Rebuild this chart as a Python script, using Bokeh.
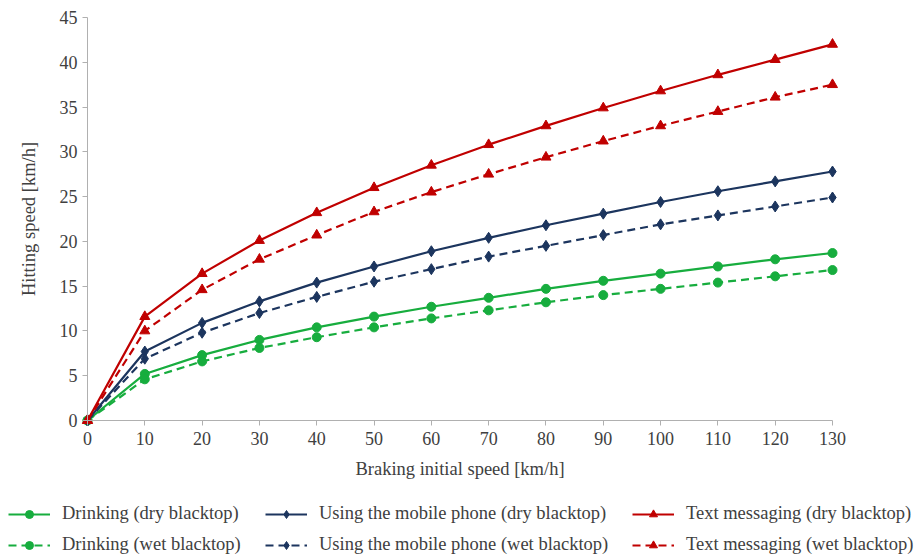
from bokeh.plotting import figure
from bokeh.models import FixedTicker, Legend, LegendItem, Range1d
from bokeh.embed import file_html
from bokeh.resources import INLINE

speeds = [0, 10, 20, 30, 40, 50, 60, 70, 80, 90, 100, 110, 120, 130]
drink_dry = [0, 5.2, 7.3, 9.0, 10.4, 11.6, 12.7, 13.7, 14.7, 15.6, 16.4, 17.2, 18.0, 18.7]
drink_wet = [0, 4.6, 6.6, 8.1, 9.3, 10.4, 11.4, 12.3, 13.2, 14.0, 14.7, 15.4, 16.1, 16.8]
phone_dry = [0, 7.7, 10.9, 13.3, 15.4, 17.2, 18.9, 20.4, 21.8, 23.1, 24.4, 25.6, 26.7, 27.8]
phone_wet = [0, 6.9, 9.8, 12.0, 13.8, 15.5, 16.9, 18.3, 19.5, 20.7, 21.9, 22.9, 23.9, 24.9]
text_dry = [0, 11.6, 16.4, 20.1, 23.2, 26.0, 28.5, 30.8, 32.9, 34.9, 36.8, 38.6, 40.3, 42.0]
text_wet = [0, 10.0, 14.6, 18.0, 20.7, 23.3, 25.5, 27.5, 29.4, 31.2, 32.9, 34.5, 36.1, 37.5]
y_ticks = [0, 5, 10, 15, 20, 25, 30, 35, 40, 45]

labels = ["Drinking (dry blacktop)", "Drinking (wet blacktop)",
          "Using the mobile phone (dry blacktop)", "Using the mobile phone (wet blacktop)",
          "Text messaging (dry blacktop)", "Text messaging (wet blacktop)"]

GREEN = "#17ad3e"
NAVY = "#1c355e"
RED = "#c00000"
FONT = "Liberation Serif"
TXT = "#404040"
AX = "#b0b0b0"

# layout: the frame covers the whole canvas; axes sit at data 0 and are bounded
W, H = 917, 556
PL, PR, PT, PB = 87, 832, 17, 420          # plot-area pixel box
X0, X1, Y0, Y1 = 0, 130, 0, 45
sx = (PR - PL) / (X1 - X0)
sy = (PB - PT) / (Y1 - Y0)
x_range = Range1d(X0 - PL / sx, X1 + (W - PR) / sx)
y_range = Range1d(Y0 - (H - PB) / sy, Y1 + PT / sy)

p = figure(width=W, height=H, output_backend="svg", toolbar_location=None,
           x_range=x_range, y_range=y_range,
           min_border_left=0, min_border_right=0, min_border_top=0, min_border_bottom=0)
p.outline_line_color = None
p.xgrid.visible = False
p.ygrid.visible = False

series = [
    (drink_dry, GREEN, "solid", "circle", 9),
    (drink_wet, GREEN, "8 5", "circle", 9),
    (phone_dry, NAVY, "solid", "diamond", 11),
    (phone_wet, NAVY, "8 5", "diamond", 11),
    (text_dry, RED, "solid", "triangle", 10),
    (text_wet, RED, "8 5", "triangle", 10),
]

items = {}
for (vals, col, dash, mk, sz), lab in zip(series, labels):
    ln = p.line(speeds, vals, line_color=col, line_width=2.2, line_dash=dash)
    sc = p.scatter(speeds, vals, marker=mk, size=sz, fill_color=col, line_color=col)
    items[lab] = LegendItem(label=lab, renderers=[ln, sc])

for ax in (p.xaxis[0], p.yaxis[0]):
    ax.fixed_location = 0
    ax.axis_line_color = AX
    ax.major_tick_line_color = AX
    ax.major_tick_out = 5
    ax.major_tick_in = 0
    ax.minor_tick_line_color = None
    ax.major_label_text_font = FONT
    ax.major_label_text_font_size = "18px"
    ax.major_label_text_color = TXT
    ax.axis_label_text_font = FONT
    ax.axis_label_text_font_size = "18.5px"
    ax.axis_label_text_color = TXT
    ax.axis_label_text_font_style = "normal"

p.xaxis.bounds = (X0, X1)
p.yaxis.bounds = (Y0, Y1)
p.xaxis.ticker = FixedTicker(ticks=speeds)
p.yaxis.ticker = FixedTicker(ticks=y_ticks)
p.xaxis.axis_label = "Braking initial speed [km/h]"
p.yaxis.axis_label = "Hitting speed [km/h]"
p.xaxis.major_label_standoff = 6
p.xaxis.axis_label_standoff = 11
p.yaxis.major_label_standoff = 5
p.yaxis.axis_label_standoff = 18

cols = [(labels[0], labels[1], 8), (labels[2], labels[3], 265), (labels[4], labels[5], 632)]
for a, b, x in cols:
    lg = Legend(items=[items[a], items[b]], orientation="vertical", location=(x, 1),
                border_line_color=None, background_fill_alpha=0,
                label_text_font=FONT, label_text_font_size="18.5px", label_text_color=TXT,
                glyph_width=42, glyph_height=20, label_height=20, label_standoff=12,
                spacing=10, margin=0, padding=0)
    p.add_layout(lg, "center")

open("out.html", "w").write(file_html(p, INLINE))
